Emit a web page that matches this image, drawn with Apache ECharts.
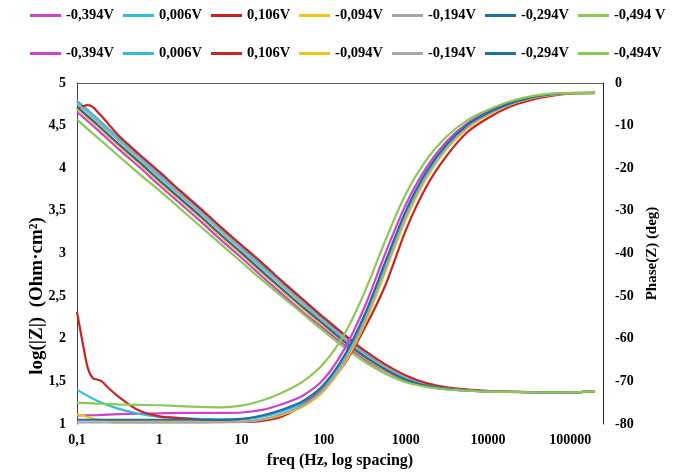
<!DOCTYPE html>
<html>
<head>
<meta charset="utf-8">
<script src="https://cdn.jsdelivr.net/npm/echarts@6/dist/echarts.min.js"></script>
<style>html,body{margin:0;padding:0;background:#fff;}#c{width:675px;height:476px;}</style>
</head>
<body>
<div id="c"></div>
<script>
// ---- data ----
// frequency grid (Hz), 4 points per decade
const freq = [0.1, 0.178, 0.316, 0.562, 1, 1.78, 3.16, 5.62, 10, 17.8, 31.6, 56.2, 100, 178, 316, 562,
              1000, 1780, 3160, 5620, 10000, 17800, 31600, 56200, 100000, 200000];
// the 0,106V run has extra detail at low frequency
const redFreq = [0.1, 0.12, 0.136, 0.155, 0.178, 0.2, 0.24, 0.316, 0.562, 1, 1.78, 3.16, 5.62, 10, 17.8, 31.6,
                 56.2, 100, 178, 316, 562, 1000, 1780, 3160, 5620, 10000, 17800, 31600, 56200, 100000, 200000];

const zNames  = ['-0,394V', '0,006V', '0,106V', '-0,094V', '-0,194V', '-0,294V', '-0,494 V'];
const phNames = ['-0,394V', '0,006V', '0,106V', '-0,094V', '-0,194V', '-0,294V', '-0,494V'];
const colors  = ['#CC44CC', '#33BBDD', '#CC2222', '#F2C318', '#A6A6A6', '#1F6EA0', '#8DC855'];

// log(|Z|)  (Ohm·cm²)
const zM394 = [4.66, 4.45, 4.23, 4.02, 3.80, 3.59, 3.38, 3.16, 2.95, 2.73, 2.52, 2.31, 2.12, 1.93, 1.76, 1.62, 1.505, 1.442, 1.408, 1.39, 1.38, 1.376, 1.373, 1.372, 1.371, 1.385];
const zP006 = [4.79, 4.58, 4.36, 4.15, 3.93, 3.72, 3.51, 3.29, 3.08, 2.86, 2.65, 2.44, 2.23, 2.03, 1.83, 1.67, 1.54, 1.46, 1.42, 1.397, 1.383, 1.378, 1.374, 1.372, 1.371, 1.385];
const zP106 = [4.70, 4.73, 4.74, 4.72, 4.66, 4.61, 4.52, 4.39, 4.17, 3.96, 3.74, 3.53, 3.31, 3.10, 2.89, 2.67, 2.46, 2.25, 2.05, 1.86, 1.70, 1.57, 1.48, 1.43, 1.405, 1.39, 1.38, 1.375, 1.372, 1.371, 1.385];
const zM094 = [4.70, 4.49, 4.27, 4.06, 3.84, 3.63, 3.42, 3.20, 2.99, 2.77, 2.56, 2.35, 2.15, 1.96, 1.78, 1.63, 1.515, 1.447, 1.412, 1.393, 1.381, 1.377, 1.374, 1.372, 1.371, 1.385];
const zM194 = [4.76, 4.55, 4.33, 4.12, 3.90, 3.69, 3.48, 3.26, 3.05, 2.83, 2.62, 2.41, 2.20, 2.00, 1.81, 1.66, 1.53, 1.455, 1.416, 1.395, 1.382, 1.377, 1.374, 1.372, 1.371, 1.385];
const zM294 = [4.72, 4.51, 4.29, 4.08, 3.86, 3.65, 3.44, 3.22, 3.01, 2.79, 2.58, 2.37, 2.17, 1.97, 1.79, 1.64, 1.52, 1.45, 1.413, 1.393, 1.381, 1.377, 1.374, 1.372, 1.371, 1.385];
const zM494 = [4.57, 4.36, 4.15, 3.94, 3.74, 3.53, 3.32, 3.11, 2.90, 2.69, 2.49, 2.29, 2.09, 1.90, 1.73, 1.59, 1.49, 1.435, 1.405, 1.39, 1.38, 1.376, 1.373, 1.372, 1.371, 1.385];

// Phase(Z)  (deg)
const pM394 = [-78.0, -77.9, -77.7, -77.6, -77.5, -77.4, -77.4, -77.4, -77.3, -76.7, -75.3, -73.3, -69.5, -62.5, -52.5, -40.0, -28.5, -19.8, -13.6, -9.4, -6.7, -4.7, -3.4, -2.6, -2.35, -2.3];
const pP006 = [-72.0, -74.6, -76.4, -77.6, -78.3, -78.6, -78.8, -78.9, -78.9, -78.3, -77.0, -75.1, -71.4, -64.8, -55.2, -43.0, -30.8, -21.4, -14.7, -10.1, -7.2, -5.0, -3.6, -2.75, -2.4, -2.3];
const pP106 = [-53.7, -62.0, -67.0, -69.2, -69.6, -70.0, -71.5, -73.5, -76.8, -78.2, -78.6, -79.0, -79.3, -79.5, -79.3, -78.2, -75.5, -71.8, -66.0, -57.5, -47.5, -34.5, -24.3, -17.0, -11.5, -8.2, -5.7, -4.1, -3.1, -2.5, -2.4];
const pM094 = [-77.7, -78.9, -79.3, -79.4, -79.5, -79.5, -79.5, -79.5, -79.4, -79.0, -77.8, -75.9, -72.3, -65.8, -56.5, -44.3, -32.0, -22.3, -15.4, -10.6, -7.5, -5.2, -3.7, -2.85, -2.4, -2.3];
const pM194 = [-79.6, -79.6, -79.7, -79.7, -79.7, -79.7, -79.7, -79.6, -79.5, -78.9, -77.6, -75.6, -71.9, -65.3, -55.8, -43.6, -31.3, -21.8, -15.0, -10.3, -7.3, -5.1, -3.6, -2.8, -2.4, -2.3];
const pM294 = [-79.0, -79.0, -79.0, -79.0, -79.0, -79.0, -79.0, -79.0, -78.8, -78.0, -76.6, -74.6, -70.8, -64.0, -54.3, -42.0, -30.0, -20.8, -14.3, -9.8, -7.0, -4.9, -3.5, -2.7, -2.35, -2.3];
const pM494 = [-75.0, -75.2, -75.4, -75.5, -75.6, -75.8, -76.0, -76.1, -75.7, -74.5, -72.6, -70.0, -65.8, -59.0, -49.0, -37.0, -26.0, -18.0, -12.5, -8.7, -6.3, -4.4, -3.2, -2.5, -2.3, -2.3];

const zSets = [zM394, zP006, zP106, zM094, zM194, zM294, zM494];
const pSets = [pM394, pP006, pP106, pM094, pM194, pM294, pM494];
const xSets = [freq, freq, redFreq, freq, freq, freq, freq];

// ---- chart ----
const FONT = '"Liberation Serif", "Times New Roman", serif';
const pair = (xs, vals) => xs.map((f, i) => [f, vals[i]]);
const series = [];
zSets.forEach((v, i) => series.push({
  name: 'Z' + i, type: 'line', xAxisIndex: 0, yAxisIndex: 0, data: pair(xSets[i], v),
  symbol: 'none', smooth: 0.3,
  lineStyle: { width: 2.2, color: colors[i] }, itemStyle: { color: colors[i] }
}));
pSets.forEach((v, i) => series.push({
  name: 'P' + i, type: 'line', xAxisIndex: 0, yAxisIndex: 1, data: pair(xSets[i], v),
  symbol: 'none', smooth: 0.3,
  lineStyle: { width: 2.2, color: colors[i] }, itemStyle: { color: colors[i] }
}));

const legendBase = {
  left: 30, padding: 0, icon: 'rect', itemWidth: 31, itemHeight: 3, itemGap: 9,
  textStyle: { fontFamily: FONT, fontWeight: 'bold', fontSize: 14.5, color: '#000' }
};

const chart = echarts.init(document.getElementById('c'), null, { renderer: 'canvas' });
chart.setOption({
  animation: false,
  backgroundColor: '#fff',
  legend: [
    Object.assign({}, legendBase, { top: 8, data: zNames.map((n, i) => 'Z' + i),
      formatter: (n) => zNames[+n.slice(1)] }),
    Object.assign({}, legendBase, { top: 46, data: phNames.map((n, i) => 'P' + i),
      formatter: (n) => phNames[+n.slice(1)] })
  ],
  grid: { left: 77, right: 72, top: 83, bottom: 52, containLabel: false },
  xAxis: {
    type: 'log', logBase: 10, min: 0.1, max: 250000,
    name: 'freq (Hz, log spacing)', nameLocation: 'middle', nameGap: 29,
    nameTextStyle: { fontFamily: FONT, fontWeight: 'bold', fontSize: 16, color: '#000' },
    axisLine: { show: true, lineStyle: { color: '#595959', width: 1 } },
    axisTick: { show: false }, splitLine: { show: false },
    axisLabel: {
      margin: 9, fontFamily: FONT, fontWeight: 'bold', fontSize: 14, color: '#000',
      showMaxLabel: false,
      formatter: (v) => {
        const lv = Math.log10(v);
        if (Math.abs(lv - Math.round(lv)) > 1e-6) return '';
        return v < 1 ? '0,1' : String(Math.round(v));
      }
    }
  },
  yAxis: [
    {
      type: 'value', min: 1, max: 5, interval: 0.5, position: 'left',
      axisLine: { show: true, lineStyle: { color: '#404040', width: 1 } },
      axisTick: { show: false }, splitLine: { show: false },
      axisLabel: { margin: 11, fontFamily: FONT, fontWeight: 'bold', fontSize: 14, color: '#000',
        formatter: (v) => String(v).replace('.', ',') }
    },
    {
      type: 'value', min: -80, max: 0, interval: 10, position: 'right',
      name: 'Phase(Z) (deg)', nameLocation: 'middle', nameGap: 42, nameRotate: 90,
      nameTextStyle: { fontFamily: FONT, fontWeight: 'bold', fontSize: 15, color: '#000' },
      axisLine: { show: true, lineStyle: { color: '#202020', width: 1 } },
      axisTick: { show: false }, splitLine: { show: false },
      axisLabel: { margin: 12, fontFamily: FONT, fontWeight: 'bold', fontSize: 14, color: '#000' }
    }
  ],
  graphic: [{
    type: 'text', x: 37, y: 296, rotation: Math.PI / 2,
    style: { text: 'log(|Z|)  (Ohm·cm²)', font: 'bold 19px ' + FONT, fill: '#000',
      textAlign: 'center', textVerticalAlign: 'middle' }
  }],
  series: series
});
</script>
</body>
</html>
